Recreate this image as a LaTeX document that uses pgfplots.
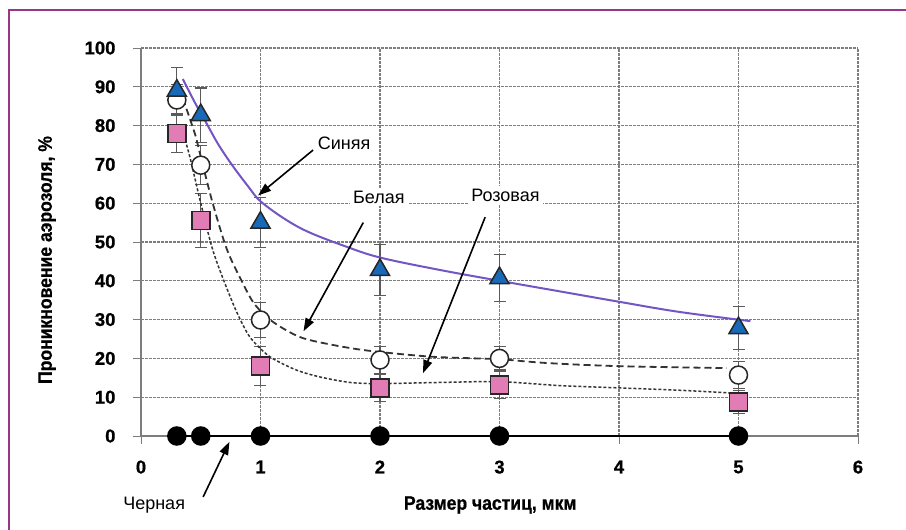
\documentclass[border=0pt]{standalone}
\usepackage{fontspec}
\setmainfont{Liberation Sans}
\newfontfamily\condb[FakeStretch=0.9,FakeBold=0.8]{Liberation Sans}
\newfontfamily\tickf[FakeBold=0.8]{Liberation Sans}
\usepackage{pgfplots}
\pgfplotsset{compat=1.18}
\usetikzlibrary{arrows.meta}
\definecolor{frame}{RGB}{150,55,140}
\definecolor{tri}{RGB}{25,105,185}
\definecolor{pinkc}{RGB}{225,125,180}
\definecolor{purp}{RGB}{115,85,195}
\definecolor{gridc}{RGB}{125,125,125}
\definecolor{errc}{RGB}{90,90,90}
\begin{document}
\begin{tikzpicture}[x=1pt,y=1pt]
\path[use as bounding box] (0,0) rectangle (906,530);
\draw[frame, line width=2.5] (9,0) -- (9,520) -- (906,520);
\begin{axis}[
  at={(141pt,94pt)}, anchor=south west,
  scale only axis, width=717pt, height=388pt,
  xmin=0, xmax=6, ymin=0, ymax=100,
  xtick={0,...,6}, ytick={0,10,...,100},
  clip=false,
  axis line style={draw=none},
  tick pos=left, tick align=outside, major tick length=8pt,
  tick style={gridc, line width=0.8pt},
  grid=major,
  grid style={gridc, line width=1.1pt, dash pattern=on 2.5pt off 1.5pt},
  /pgf/number format/assume math mode=true,
  ticklabel style={font=\tickf\bfseries\fontsize{18.5}{18.5}\selectfont},
  xticklabel style={yshift=-13pt},
  yticklabel style={xshift=-14pt},
  xlabel={Размер частиц, мкм},
  ylabel={Проникновение аэрозоля, \%},
  label style={font=\condb\bfseries\fontsize{19.5}{19.5}\selectfont},
  xlabel style={at={(axis description cs:0.487,0)}, anchor=center, yshift=-69pt},
  ylabel style={at={(axis description cs:0,0.4536)}, anchor=center, yshift=94pt},
  error bars/y dir=both, error bars/y explicit,
  error bars/error bar style={errc, line width=1.1pt},
  error bars/error mark options={errc, line width=1.1pt, mark size=6pt, rotate=90},
]
\draw[gridc, line width=1.1pt] (axis cs:0,0) -- (axis cs:6,0);
\draw[gridc, line width=1.1pt] (axis cs:0,0) -- (axis cs:0,100);

% error bars (drawn first, behind markers)
\addplot[errc, only marks, mark=none, forget plot] coordinates {
(0.3,78) +- (0,5) (0.5,55.5) +- (0,7) (1,18) +- (0,5) (2,12.4) +- (0,3.5) (3,13.1) +- (0,3.5) (5,8.8) +- (0,3)};
\addplot[errc, only marks, mark=none, forget plot] coordinates {
(0.3,86.6) +- (0,4) (0.5,69.8) +- (0,5) (1,29.9) +- (0,4.5) (2,19.6) +- (0,3.5) (3,20) +- (0,3) (5,15.7) +- (0,3.5)};
\addplot[errc, only marks, mark=none, forget plot] coordinates {
(0.3,89) +- (0,6) (0.5,82.7) +- (0,7) (1,55) +- (0,6.5) (2,42.8) +- (0,6.5) (3,40.7) +- (0,6) (5,27.8) +- (0,5.5)};

% fitted curves
\addplot[purp, line width=2pt, smooth, tension=0.6, no markers, forget plot, error bars/y dir=none] coordinates {
(0.35,92) (0.45,86) (0.55,80.5) (0.65,75) (0.77,69.5) (0.9,64.2) (1.0,60.5) (1.2,56) (1.4,52.6) (1.7,49) (2.0,46) (2.5,42.8) (3.0,40) (3.5,37.3) (4.0,34.6) (4.5,32) (5.1,29.6)};
\addplot[black!80, line width=1.8pt, dash pattern=on 7pt off 4pt, smooth, no markers, forget plot, error bars/y dir=none] coordinates {
(0.35,87) (0.45,78) (0.5,72) (0.6,60) (0.72,48) (0.85,39.5) (0.95,34) (1.1,29.5) (1.33,25.5) (1.6,23.5) (1.9,22) (2.4,20.5) (2.8,20) (3.0,19.8) (3.4,18.8) (4.0,18) (4.9,17.5)};
\addplot[black!80, line width=1.5pt, dash pattern=on 3pt off 2pt, smooth, no markers, forget plot, error bars/y dir=none] coordinates {
(0.33,80) (0.4,73) (0.5,60) (0.6,48) (0.7,39.5) (0.8,32) (0.9,26) (1.0,22.5) (1.1,20) (1.3,17) (1.5,15.2) (1.75,13.8) (2.0,13.5) (2.5,13.8) (3.0,14) (3.5,13) (4,12.4) (4.5,11.8) (5.0,11)};
% black
\addplot[black, line width=2.5pt, mark=*, mark size=8.5pt, error bars/y dir=none] coordinates {
(0.3,0) (0.5,0) (1,0) (2,0) (3,0) (5,0)};
% pink squares
\addplot[only marks, mark=square*, mark size=9pt, mark options={fill=pinkc, draw=black!85, line width=1.5pt}, error bars/y dir=none] coordinates {
(0.3,78) (0.5,55.5) (1,18) (2,12.4) (3,13.1) (5,8.8)};
% white circles
\addplot[only marks, mark=*, mark size=9pt, mark options={fill=white, draw=black!85, line width=1.5pt}, error bars/y dir=none] coordinates {
(0.3,86.6) (0.5,69.8) (1,29.9) (2,19.6) (3,20) (5,15.7)};
% blue triangles
\addplot[only marks, mark=triangle*, mark size=11pt, mark options={fill=tri, draw=black!85, line width=1.5pt}, error bars/y dir=none] coordinates {
(0.3,89) (0.5,82.7) (1,55) (2,42.8) (3,40.7) (5,27.8)};

% annotations
\begin{scope}[every node/.style={fill=white, inner sep=3pt, font=\fontsize{18}{18}\selectfont}]
\node at (axis cs:1.70,75.5) {Синяя};
\node at (axis cs:1.99,61.6) {Белая};
\node at (axis cs:3.05,62.1) {Розовая};
\node[fill=none] at (axis cs:0.11,-17.8) {Черная};
\end{scope}
\begin{scope}[line width=1.6pt, -{Triangle[length=13pt,width=9pt]}]
\draw (axis cs:1.44,73.7) -- (axis cs:0.98,62);
\draw (axis cs:1.86,55) -- (axis cs:1.36,27);
\draw (axis cs:2.88,56.4) -- (axis cs:2.36,16.2);
\draw (axis cs:0.52,-15.7) -- (axis cs:0.74,-1.5);
\end{scope}
\end{axis}
\end{tikzpicture}
\end{document}
